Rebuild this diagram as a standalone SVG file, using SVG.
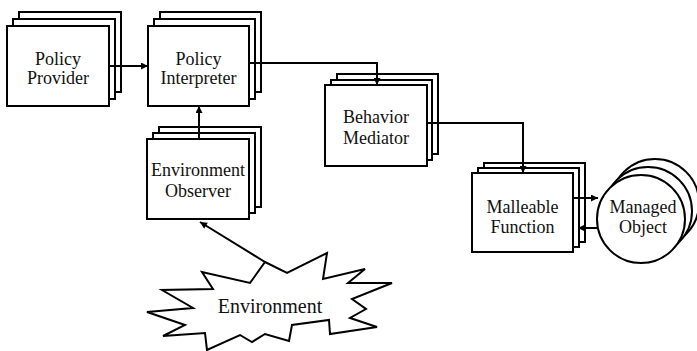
<svg xmlns="http://www.w3.org/2000/svg" width="697" height="351" viewBox="0 0 697 351">
  <style>
    .box { fill: #fff; stroke: #000; stroke-width: 2; }
    .lbl { font-family: "Liberation Serif", "Times New Roman", serif; font-size: 18px; fill: #111; text-anchor: middle; }
    .big { font-size: 20px; }
    .wire { fill: none; stroke: #000; stroke-width: 2; }
  </style>
  <defs>
    <!-- filled arrowhead shared by all connectors -->
    <marker id="ah" viewBox="0 0 10 10" refX="10" refY="5" markerWidth="8" markerHeight="7" markerUnits="userSpaceOnUse" orient="auto">
      <path d="M0,0 L10,5 L0,10 z" fill="#000"/>
    </marker>
  </defs>
  <rect width="697" height="351" fill="#fff"/>

  <!-- stacked boxes: back copies first, front box last -->
  <g id="policy-provider">
    <rect class="box" x="19" y="12" width="102" height="80"/>
    <rect class="box" x="13" y="19" width="102" height="80"/>
    <rect class="box" x="7" y="26" width="102" height="80"/>
    <text class="lbl" x="58" y="65">Policy</text>
    <text class="lbl" x="58" y="84">Provider</text>
  </g>

  <g id="policy-interpreter">
    <rect class="box" x="160" y="12" width="101" height="80"/>
    <rect class="box" x="154" y="19" width="101" height="80"/>
    <rect class="box" x="148" y="26" width="101" height="80"/>
    <text class="lbl" x="198.5" y="65">Policy</text>
    <text class="lbl" x="198.5" y="84">Interpreter</text>
  </g>

  <g id="behavior-mediator">
    <rect class="box" x="337" y="74" width="101" height="80"/>
    <rect class="box" x="331" y="80" width="101" height="80"/>
    <rect class="box" x="325" y="85" width="102" height="81"/>
    <text class="lbl" x="376" y="123">Behavior</text>
    <text class="lbl" x="376" y="144">Mediator</text>
  </g>

  <g id="environment-observer">
    <rect class="box" x="159" y="127" width="102" height="80"/>
    <rect class="box" x="153" y="133" width="102" height="80"/>
    <rect class="box" x="147" y="139" width="102" height="80"/>
    <text class="lbl" x="198" y="176">Environment</text>
    <text class="lbl" x="198" y="197">Observer</text>
  </g>

  <g id="malleable-function">
    <rect class="box" x="484" y="163" width="101" height="79"/>
    <rect class="box" x="478" y="168" width="101" height="79"/>
    <rect class="box" x="472" y="173" width="101" height="79"/>
    <text class="lbl" x="522.5" y="213">Malleable</text>
    <text class="lbl" x="522.5" y="233">Function</text>
  </g>

  <g id="managed-object">
    <circle class="box" cx="655" cy="203" r="44"/>
    <circle class="box" cx="648" cy="211" r="44"/>
    <circle class="box" cx="641" cy="219" r="44"/>
    <text class="lbl" x="643" y="213">Managed</text>
    <text class="lbl" x="643" y="233">Object</text>
  </g>

  <!-- starburst outline -->
  <g id="environment">
    <polygon class="box" points="265,262 287,273 327,253 323,279 365,269 348,283 392,283 352,299 366,309 350,318 377,327 330,334 329,320 292,325 289,341 265,334 252,342 240,335 207,350 205,333 163,336 185,325 147,312 193,308 162,290 213,289 202,272 250,283"/>
    <text class="lbl big" x="270" y="313">Environment</text>
  </g>

  <g id="connectors">
    <line class="wire" x1="109" y1="66" x2="148" y2="66" marker-end="url(#ah)"/>
    <polyline class="wire" points="249,63 377,63 377,85" marker-end="url(#ah)"/>
    <polyline class="wire" points="427,123 523,123 523,173" marker-end="url(#ah)"/>
    <line class="wire" x1="199" y1="139" x2="199" y2="106" marker-end="url(#ah)"/>
    <line class="wire" x1="573" y1="198" x2="598" y2="198" marker-end="url(#ah)"/>
    <line class="wire" x1="598" y1="228" x2="578" y2="228" marker-end="url(#ah)"/>
    <line class="wire" x1="265" y1="262" x2="200" y2="222" marker-end="url(#ah)"/>
  </g>
</svg>
